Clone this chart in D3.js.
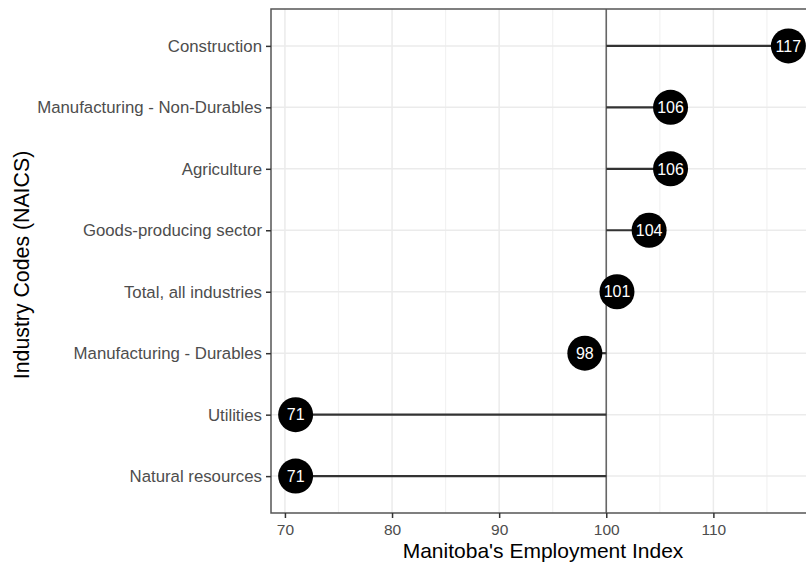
<!DOCTYPE html>
<html>
<head>
<meta charset="utf-8">
<script src="https://cdn.jsdelivr.net/npm/d3@7"></script>
<style>
  body { margin: 0; background: #fff; }
  svg { display: block; font-family: "Liberation Sans", Arial, sans-serif; }
</style>
</head>
<body>
<div id="chart"></div>
<script>
// industries, top to bottom
const industries = [
  "Construction",
  "Manufacturing - Non-Durables",
  "Agriculture",
  "Goods-producing sector",
  "Total, all industries",
  "Manufacturing - Durables",
  "Utilities",
  "Natural resources"
];
const indexValues = [117, 106, 106, 104, 101, 98, 71, 71];
const xTicks = [70, 80, 90, 100, 110];
const minorTicks = [75, 85, 95, 105, 115];
const baseline = 100;

const W = 806, H = 567;
const panel = { left: 271, top: 9, right: 813, bottom: 513 };

const svg = d3.select("#chart").append("svg")
  .attr("width", W).attr("height", H);

// ggplot-like 5% expansion of data range
const lo = d3.min(indexValues), hi = d3.max(indexValues);
const pad = (hi - lo) * 0.05;
const x = d3.scaleLinear()
  .domain([lo - pad, hi + pad])
  .range([panel.left, panel.right]);

const y = d3.scalePoint()
  .domain(industries)
  .range([panel.top, panel.bottom])
  .padding(0.6);

const g = svg.append("g");

// grid
g.selectAll("line.minor").data(minorTicks).enter().append("line")
  .attr("x1", d => x(d)).attr("x2", d => x(d))
  .attr("y1", panel.top).attr("y2", panel.bottom)
  .attr("stroke", "#f2f2f2").attr("stroke-width", 1.2);
g.selectAll("line.major").data(xTicks).enter().append("line")
  .attr("x1", d => x(d)).attr("x2", d => x(d))
  .attr("y1", panel.top).attr("y2", panel.bottom)
  .attr("stroke", "#ebebeb").attr("stroke-width", 1.5);
g.selectAll("line.ygrid").data(industries).enter().append("line")
  .attr("x1", panel.left).attr("x2", panel.right)
  .attr("y1", d => y(d)).attr("y2", d => y(d))
  .attr("stroke", "#ebebeb").attr("stroke-width", 1.5);

// baseline at 100
g.append("line")
  .attr("x1", x(baseline)).attr("x2", x(baseline))
  .attr("y1", panel.top).attr("y2", panel.bottom)
  .attr("stroke", "#666").attr("stroke-width", 1.6);

// panel border
g.append("rect")
  .attr("x", panel.left).attr("y", panel.top)
  .attr("width", panel.right - panel.left)
  .attr("height", panel.bottom - panel.top)
  .attr("fill", "none").attr("stroke", "#555").attr("stroke-width", 1.5);

// axes
const xAxis = d3.axisBottom(x).tickValues(xTicks).tickSize(5).tickPadding(6);
const gx = svg.append("g")
  .attr("transform", "translate(0," + panel.bottom + ")")
  .call(xAxis);
gx.select(".domain").remove();
gx.selectAll(".tick line").attr("stroke", "#333").attr("stroke-width", 1.5);
gx.selectAll(".tick text")
  .attr("fill", "#4d4d4d").style("font-size", "15.5px")
  .attr("font-family", null);

const yAxis = d3.axisLeft(y).tickSize(5).tickPadding(4);
const gy = svg.append("g")
  .attr("transform", "translate(" + panel.left + ",0)")
  .call(yAxis);
gy.select(".domain").remove();
gy.selectAll(".tick line").attr("stroke", "#333").attr("stroke-width", 1.5);
gy.selectAll(".tick text")
  .attr("fill", "#4d4d4d").style("font-size", "16.8px")
  .attr("font-family", null);

// lollipops
const rows = industries.map((name, i) => ({ name: name, value: indexValues[i] }));

g.selectAll("line.stick").data(rows).enter().append("line")
  .attr("x1", x(baseline)).attr("x2", d => x(d.value))
  .attr("y1", d => y(d.name)).attr("y2", d => y(d.name))
  .attr("stroke", "#333").attr("stroke-width", 2.2);

g.selectAll("circle.dot").data(rows).enter().append("circle")
  .attr("cx", d => x(d.value)).attr("cy", d => y(d.name))
  .attr("r", 17.5).attr("fill", "#000");

g.selectAll("text.val").data(rows).enter().append("text")
  .attr("x", d => x(d.value)).attr("y", d => y(d.name))
  .attr("dy", "0.36em").attr("text-anchor", "middle")
  .attr("fill", "#fff").style("font-size", "16px")
  .text(d => d.value);

// titles
svg.append("text")
  .attr("x", 543).attr("y", 558)
  .attr("text-anchor", "middle").style("font-size", "21px").attr("fill", "#000")
  .text("Manitoba's Employment Index");

svg.append("text")
  .attr("transform", "translate(28.5,265) rotate(-90)")
  .attr("text-anchor", "middle").style("font-size", "21.3px").attr("fill", "#000")
  .text("Industry Codes (NAICS)");
</script>
</body>
</html>
